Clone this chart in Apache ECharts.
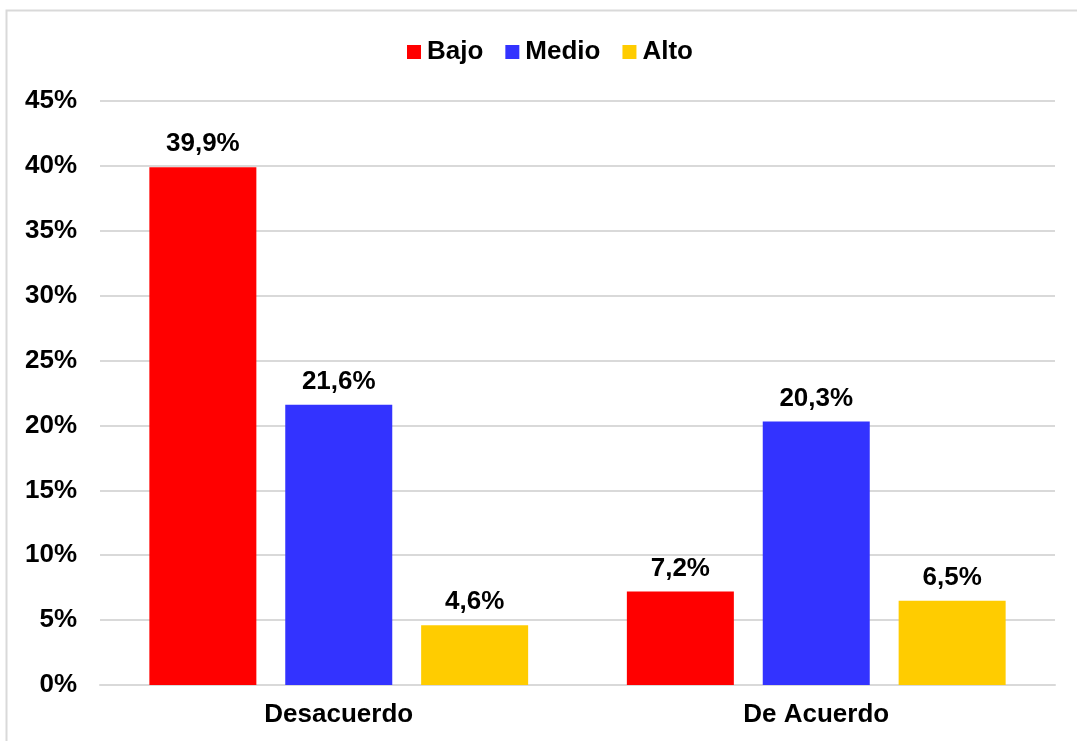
<!DOCTYPE html>
<html>
<head>
<meta charset="utf-8">
<script src="https://cdn.jsdelivr.net/npm/echarts@6/dist/echarts.min.js"></script>
<style>
  html, body { margin: 0; padding: 0; background: #fff; }
  #chart { width: 1077px; height: 741px; }
</style>
</head>
<body>
<div id="chart"></div>
<script>
// 数据
const categories = ['Desacuerdo', 'De Acuerdo']
const seriesNames = ['Bajo', 'Medio', 'Alto']
const bajo = [39.9, 7.2]
const medio = [21.6, 20.3]
const alto = [4.6, 6.5]
const colors = ['#FF0000', '#3333FF', '#FFCC00']

const font = 'Liberation Sans, Arial, sans-serif'

const myChart = echarts.init(document.getElementById('chart'))

const makeSeries = (name, data, color) => ({
  name: name,
  type: 'bar',
  data: data,
  barWidth: 107,
  barGap: '27%',
  itemStyle: { color: color },
  label: {
    show: true,
    position: 'top',
    distance: 10,
    color: '#000',
    fontFamily: font,
    fontWeight: 'bold',
    fontSize: 26,
    formatter: (p) => p.value.toFixed(1).replace('.', ',') + '%',
  },
})

const option = {
  animation: false,
  // 外边框
  graphic: [
    {
      type: 'rect',
      shape: { x: 6.5, y: 10.5, width: 1200, height: 900 },
      style: { fill: 'none', stroke: '#d9d9d9', lineWidth: 2 },
      silent: true,
    },
  ],
  legend: {
    top: 34,
    left: 402,
    itemWidth: 14,
    itemHeight: 14,
    itemGap: 22,
    icon: 'rect',
    textStyle: {
      color: '#000',
      fontFamily: font,
      fontWeight: 'bold',
      fontSize: 26,
      padding: [0, 0, 0, 1],
    },
    data: seriesNames,
  },
  grid: {
    left: 100,
    right: 22,
    top: 101,
    bottom: 56,
  },
  xAxis: {
    type: 'category',
    data: categories,
    axisLine: { lineStyle: { color: '#d9d9d9', width: 2 } },
    axisTick: { show: false },
    axisLabel: {
      margin: 17,
      color: '#000',
      fontFamily: font,
      fontWeight: 'bold',
      fontSize: 26,
    },
  },
  yAxis: {
    type: 'value',
    min: 0,
    max: 45,
    interval: 5,
    axisLine: { show: false },
    axisTick: { show: false },
    splitLine: { lineStyle: { color: '#d9d9d9', width: 2 } },
    axisLabel: {
      margin: 23,
      color: '#000',
      fontFamily: font,
      fontWeight: 'bold',
      fontSize: 26,
      formatter: '{value}%',
    },
  },
  series: [
    makeSeries(seriesNames[0], bajo, colors[0]),
    makeSeries(seriesNames[1], medio, colors[1]),
    makeSeries(seriesNames[2], alto, colors[2]),
  ],
}

myChart.setOption(option)
</script>
</body>
</html>
